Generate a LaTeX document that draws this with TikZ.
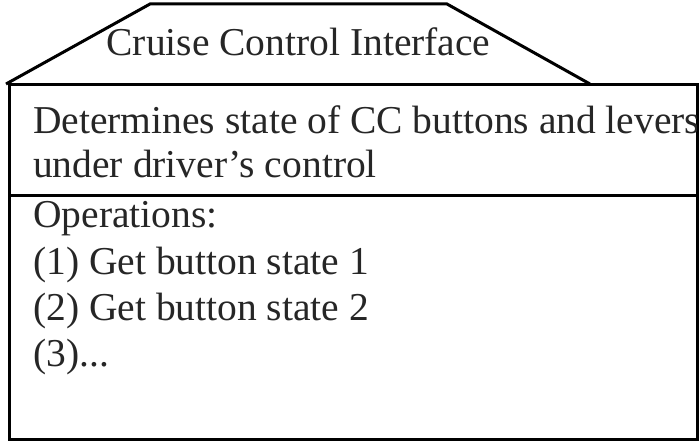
\documentclass[tikz,border=0pt]{standalone}
\usepackage{fontspec}
\setmainfont{Liberation Serif}
\begin{document}
\begin{tikzpicture}[x=1pt,y=-1pt,
  outline/.style={draw=black,line width=3pt},
  txt/.style={anchor=base west,inner sep=0pt,font=\fontsize{39.5}{46}\selectfont,text=black!85}]
\useasboundingbox (0,0) rectangle (700,441);
% class header (trapezoid roof)
\draw[outline,line join=miter] (6,84) -- (150,4) -- (447,4) -- (590,84);
% class body
\draw[outline] (9,85) rectangle (697,439);
\draw[outline] (9,195) -- (697,195);
\node[txt,anchor=base] (title) at (298.5,56) {Cruise Control Interface};
% responsibility compartment
\begin{scope}
\clip (9,85) rectangle (696,195);
\node[txt] (resp1) at (33,133) {Determines state of CC buttons and levers};
\end{scope}
\node[txt] (resp2) at (33,177) {under driver’s control};
% operations compartment
\node[txt] (ops) at (33,227) {Operations:};
\node[txt] (op1) at (33,274) {(1) Get button state 1};
\node[txt] (op2) at (33,320) {(2) Get button state 2};
\node[txt] (op3) at (33,366) {(3)...};
\end{tikzpicture}
\end{document}
